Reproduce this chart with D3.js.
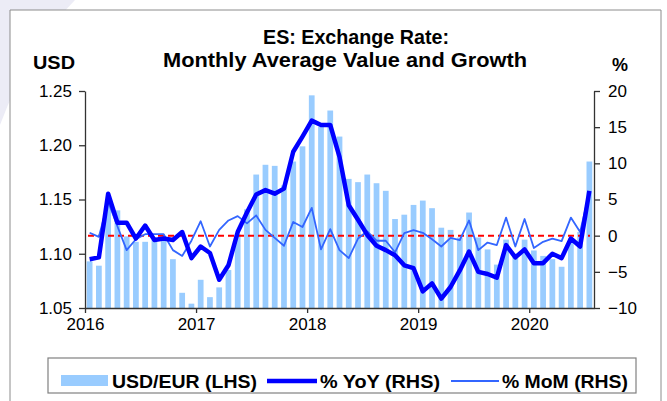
<!DOCTYPE html>
<html>
<head>
<meta charset="utf-8">
<script src="https://cdn.jsdelivr.net/npm/d3@7/dist/d3.min.js"></script>
<style>
  html, body { margin: 0; padding: 0; background: #ffffff; }
  svg { display: block; }
  text { font-family: "Liberation Sans", Arial, sans-serif; }
</style>
</head>
<body>
<svg id="chart" width="667" height="401"></svg>
<script>
// ---- Data ----
const months = [
  "2016-01","2016-02","2016-03","2016-04","2016-05","2016-06","2016-07","2016-08","2016-09","2016-10","2016-11","2016-12",
  "2017-01","2017-02","2017-03","2017-04","2017-05","2017-06","2017-07","2017-08","2017-09","2017-10","2017-11","2017-12",
  "2018-01","2018-02","2018-03","2018-04","2018-05","2018-06","2018-07","2018-08","2018-09","2018-10","2018-11","2018-12",
  "2019-01","2019-02","2019-03","2019-04","2019-05","2019-06","2019-07","2019-08","2019-09","2019-10","2019-11","2019-12",
  "2020-01","2020-02","2020-03","2020-04","2020-05","2020-06","2020-07"
];
const usdEur = [
  1.093,1.089,1.148,1.140,1.116,1.111,1.111,1.113,1.113,1.095,1.064,1.054,
  1.076,1.060,1.069,1.085,1.118,1.141,1.173,1.182,1.181,1.163,1.185,1.199,
  1.246,1.217,1.232,1.208,1.169,1.166,1.173,1.165,1.158,1.132,1.136,1.145,
  1.149,1.142,1.124,1.122,1.115,1.138,1.115,1.104,1.090,1.113,1.100,1.113,
  1.103,1.098,1.095,1.088,1.114,1.120,1.185
];
const yoy = [
  -3.25,-3.0,5.8,1.8,1.8,-0.4,1.4,-0.6,-0.4,-0.6,0.5,-3.1,
  -1.5,-2.4,-6.1,-4.1,0.5,3.2,5.7,6.3,5.8,6.5,11.6,13.7,
  15.9,15.3,15.3,10.9,4.2,2.2,0.1,-1.4,-2.0,-2.7,-4.1,-4.5,
  -7.7,-6.6,-8.7,-7.1,-4.8,-2.2,-5.0,-5.3,-5.8,-1.3,-3.0,-1.9,
  -3.8,-3.8,-2.5,-3.1,-0.4,-1.5,6.2
];
const mom = [
  0.4,-0.16,4.7,1.3,-2.0,-0.5,0.2,0.2,0.2,-2.0,-2.8,-0.7,
  2.0,-1.5,0.8,2.1,2.7,1.7,2.8,0.8,-0.3,-1.4,1.9,1.2,
  3.85,-1.9,0.9,-2.0,-3.1,-0.4,0.6,-0.7,-0.7,-2.3,0.35,0.76,
  0.4,-0.5,-1.5,-0.3,-0.6,2.1,-2.0,-0.95,-1.3,2.5,-1.5,2.3,
  -1.7,-0.85,-0.4,-0.76,2.5,0.5,6.0
];
const yearLabels = ["2016","2017","2018","2019","2020"];
const leftTicks = [1.05, 1.10, 1.15, 1.20, 1.25];
const rightTicks = [-10, -5, 0, 5, 10, 15, 20];
const titleLines = ["ES: Exchange Rate:", "Monthly Average Value and Growth"];
const legendLabels = ["USD/EUR (LHS)", "% YoY (RHS)", "% MoM (RHS)"];

// ---- Layout ----
const svg = d3.select("#chart");
const L = 85, R = 594, T = 91, B = 308;

// decorative background swoosh
svg.append("path")
  .attr("d", "M0,0 L75,0 Q30,45 0,125 Z")
  .attr("fill", "#ececf6");
svg.append("path")
  .attr("d", "M10,401 L10,10 L661,10 L661,401")
  .attr("fill", "#ffffff")
  .attr("stroke", "#8c8c8c")
  .attr("stroke-width", 1);

const x = d3.scaleBand().domain(months).range([L, R]).paddingInner(0.38).paddingOuter(0.19);
const xLin = d3.scaleLinear().domain([0, months.length]).range([L, R]);
const yL = d3.scaleLinear().domain([1.05, 1.25]).range([B, T]);
const yR = d3.scaleLinear().domain([-10, 20]).range([B, T]);

// bars
svg.append("g").selectAll("rect").data(usdEur).join("rect")
  .attr("x", (d, i) => x(months[i]))
  .attr("width", x.bandwidth())
  .attr("y", d => yL(d))
  .attr("height", d => B - yL(d))
  .attr("fill", "#99ccff");

// zero line
svg.append("line")
  .attr("x1", L + 3).attr("x2", R - 4)
  .attr("y1", yR(0)).attr("y2", yR(0))
  .attr("stroke", "#ff0000").attr("stroke-width", 2)
  .attr("stroke-dasharray", "6,4");

const cx = i => x(months[i]) + x.bandwidth() / 2;
const lineGen = d3.line().x((d, i) => cx(i)).y(d => yR(d));

svg.append("path").datum(mom)
  .attr("d", lineGen)
  .attr("fill", "none").attr("stroke", "#3366ff").attr("stroke-width", 1.8)
  .attr("stroke-linejoin", "round");
svg.append("path").datum(yoy)
  .attr("d", lineGen)
  .attr("fill", "none").attr("stroke", "#0000ff").attr("stroke-width", 4.5)
  .attr("stroke-linejoin", "round");

// axes
const axisStyle = g => {
  g.selectAll("path.domain").attr("stroke", "#333").attr("stroke-width", 1.3);
  g.selectAll(".tick line").attr("stroke", "#333").attr("stroke-width", 1.3);
  g.selectAll("text").attr("font-size", 17).attr("fill", "#000")
    .attr("font-family", "'Liberation Sans', Arial, sans-serif");
};

svg.append("g").attr("transform", `translate(${L},0)`)
  .call(d3.axisLeft(yL).tickValues(leftTicks).tickFormat(d3.format(".2f")).tickSize(6).tickSizeOuter(0).tickPadding(7))
  .call(axisStyle);

svg.append("g").attr("transform", `translate(${R},0)`)
  .call(d3.axisRight(yR).tickValues(rightTicks).tickSize(6).tickSizeOuter(0).tickPadding(8))
  .call(axisStyle);

svg.append("g").attr("transform", `translate(0,${B})`)
  .call(d3.axisBottom(xLin).tickValues([0, 12, 24, 36, 48]).tickFormat((d, i) => yearLabels[i]).tickSize(5).tickSizeOuter(0).tickPadding(5))
  .call(axisStyle);

// titles
svg.append("text").attr("x", 263).attr("y", 44)
  .attr("font-size", 20).attr("font-weight", "bold")
  .attr("textLength", 186).attr("lengthAdjust", "spacingAndGlyphs").text(titleLines[0]);
svg.append("text").attr("x", 163).attr("y", 67)
  .attr("font-size", 21).attr("font-weight", "bold")
  .attr("textLength", 364).attr("lengthAdjust", "spacingAndGlyphs").text(titleLines[1]);
svg.append("text").attr("x", 33).attr("y", 69)
  .attr("font-size", 18).attr("font-weight", "bold")
  .attr("textLength", 42).attr("lengthAdjust", "spacingAndGlyphs").text("USD");
svg.append("text").attr("x", 612).attr("y", 71)
  .attr("font-size", 18).attr("font-weight", "bold").text("%");

// legend
const lg = svg.append("g");
lg.append("rect").attr("x", 48).attr("y", 358).attr("width", 588).attr("height", 35)
  .attr("fill", "#fff").attr("stroke", "#808080").attr("stroke-width", 1.2);
lg.append("rect").attr("x", 61).attr("y", 375).attr("width", 47).attr("height", 11).attr("fill", "#99ccff");
lg.append("line").attr("x1", 267).attr("x2", 317).attr("y1", 381).attr("y2", 381)
  .attr("stroke", "#0000ff").attr("stroke-width", 4.5);
lg.append("line").attr("x1", 451).attr("x2", 499).attr("y1", 381).attr("y2", 381)
  .attr("stroke", "#3366ff").attr("stroke-width", 2);
const lx = [112, 320, 502];
const lw = [145, 120, 126];
legendLabels.forEach((t, i) => {
  lg.append("text").attr("x", lx[i]).attr("y", 388)
    .attr("font-size", 18).attr("font-weight", "bold")
    .attr("textLength", lw[i]).attr("lengthAdjust", "spacingAndGlyphs").text(t);
});
</script>
</body>
</html>
